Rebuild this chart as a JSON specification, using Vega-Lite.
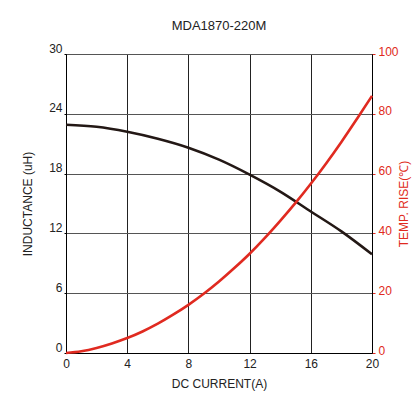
{
  "$schema": "https://vega.github.io/schema/vega-lite/v6.json",
  "autosize": "none",
  "padding": {"left": 66, "top": 54, "right": 40, "bottom": 64},
  "width": 306,
  "height": 299,
  "background": "white",
  "config": {
    "font": "Liberation Sans",
    "view": {"stroke": "#000", "strokeWidth": 1},
    "axis": {"labelFont": "Liberation Sans", "titleFont": "Liberation Sans", "labelFontSize": 12, "titleFontSize": 12, "titleFontWeight": "normal", "labelColor": "#222", "titleColor": "#222", "domainColor": "#000", "tickColor": "#000", "labelFlush": false}
  },
  "title": {"text": "MDA1870-220M", "fontSize": 13, "fontWeight": "normal", "font": "Liberation Sans", "color": "#222", "offset": 9},
  "datasets": {
    "inductance": [
      {"I": 0, "L": 22.9}, {"I": 2, "L": 22.7}, {"I": 4, "L": 22.2}, {"I": 6, "L": 21.5},
      {"I": 8, "L": 20.6}, {"I": 10, "L": 19.4}, {"I": 12, "L": 17.9}, {"I": 14, "L": 16.2},
      {"I": 16, "L": 14.2}, {"I": 18, "L": 12.2}, {"I": 20, "L": 9.9}
    ],
    "temp": [
      {"I": 0, "T": 0}, {"I": 1, "T": 0.6}, {"I": 2, "T": 1.7}, {"I": 3, "T": 3.2}, {"I": 4, "T": 5.0},
      {"I": 5, "T": 7.2}, {"I": 6, "T": 9.8}, {"I": 7, "T": 12.8}, {"I": 8, "T": 16.1}, {"I": 9, "T": 19.8},
      {"I": 10, "T": 23.9}, {"I": 11, "T": 28.4}, {"I": 12, "T": 33.2}, {"I": 13, "T": 38.5}, {"I": 14, "T": 44.2},
      {"I": 15, "T": 50.2}, {"I": 16, "T": 56.6}, {"I": 17, "T": 63.4}, {"I": 18, "T": 70.6}, {"I": 19, "T": 78.2},
      {"I": 20, "T": 86}
    ]
  },
  "layer": [
    {
      "data": {"name": "inductance"},
      "mark": {"type": "line", "color": "#231815", "strokeWidth": 2.6, "interpolate": "monotone"},
      "encoding": {
        "x": {"field": "I", "type": "quantitative", "scale": {"domain": [0, 20], "nice": false},
          "axis": {"title": "DC CURRENT(A)", "values": [0, 4, 8, 12, 16, 20], "grid": true, "gridColor": "#222", "gridOpacity": 1, "ticks": false, "labelPadding": 5, "titlePadding": 9}},
        "y": {"field": "L", "type": "quantitative", "scale": {"domain": [0, 30], "nice": false},
          "axis": {"title": "INDUCTANCE (uH)", "values": [0, 6, 12, 18, 24, 30], "grid": true, "gridColor": "#555", "gridOpacity": 1, "ticks": true, "tickSize": 2, "labelPadding": 2, "labelOffset": -6, "titlePadding": 14}}
      }
    },
    {
      "data": {"name": "temp"},
      "mark": {"type": "line", "color": "#e02a20", "strokeWidth": 2.6, "interpolate": "monotone"},
      "encoding": {
        "x": {"field": "I", "type": "quantitative", "scale": {"domain": [0, 20], "nice": false}},
        "y": {"field": "T", "type": "quantitative", "scale": {"domain": [0, 100], "nice": false},
          "axis": {"orient": "right", "title": "TEMP. RISE(℃)", "values": [0, 20, 40, 60, 80, 100], "grid": false, "tickColor": "#e02a20", "tickSize": 3, "labelColor": "#e02a20", "titleColor": "#e02a20", "labelPadding": 3, "labelOffset": -3, "titleAngle": -90, "titlePadding": 12}}
      }
    }
  ],
  "resolve": {"scale": {"y": "independent"}}
}
